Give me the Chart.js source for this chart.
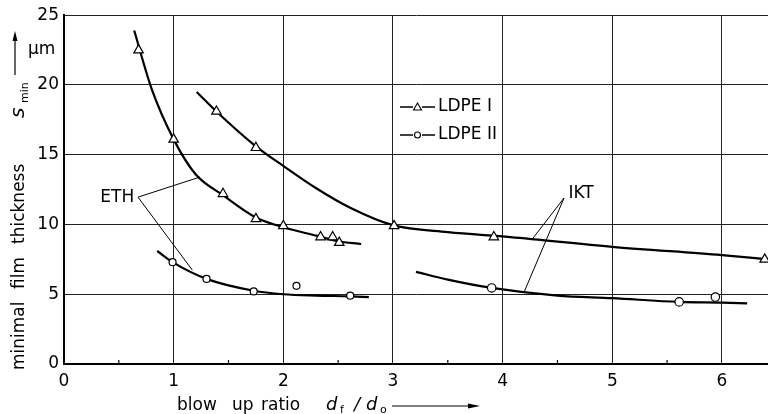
<!DOCTYPE html>
<html lang="en">
<head>
  <meta charset="UTF-8">
  <title>Minimal film thickness vs blow up ratio</title>
  <script src="https://cdn.jsdelivr.net/npm/chart.js"></script>
  <style>
    body {
      margin: 0;
      background: #fff;
    }
    canvas {
      display: block;
    }
  </style>
</head>
<body>
  <canvas id="thicknessChart" width="768" height="414"></canvas>

  <script>
    // LDPE I, ETH: measured points and fitted curve
    const ethLdpe1X = [0.68, 1.0, 1.45, 1.75, 2.0, 2.34, 2.45, 2.51];
    const ethLdpe1Y = [22.5, 16.1, 12.2, 10.4, 9.9, 9.1, 9.1, 8.7];
    const ethLdpe1CurveX = [0.64, 0.8, 1.0, 1.2, 1.45, 1.75, 2.0, 2.3, 2.5, 2.71];
    const ethLdpe1CurveY = [23.9, 19.7, 16.1, 13.6, 12.1, 10.5, 9.8, 9.2, 8.8, 8.6];

    // LDPE I, IKT
    const iktLdpe1X = [1.39, 1.75, 3.01, 3.92, 6.39];
    const iktLdpe1Y = [18.1, 15.5, 9.9, 9.1, 7.5];
    const iktLdpe1CurveX = [1.21, 1.39, 1.75, 2.0, 2.3, 2.61, 3.0, 3.5, 4.07, 5.0, 6.0, 6.42];
    const iktLdpe1CurveY = [19.5, 18.1, 15.6, 14.2, 12.6, 11.2, 9.95, 9.45, 9.1, 8.4, 7.8, 7.5];

    // LDPE II, ETH
    const ethLdpe2X = [0.99, 1.3, 1.73, 2.12, 2.61];
    const ethLdpe2Y = [7.3, 6.1, 5.2, 5.6, 4.9];
    const ethLdpe2CurveX = [0.85, 0.99, 1.3, 1.73, 2.0, 2.3, 2.61, 2.78];
    const ethLdpe2CurveY = [8.1, 7.3, 6.1, 5.25, 5.0, 4.9, 4.85, 4.8];

    // LDPE II, IKT
    const iktLdpe2X = [3.9, 5.61, 5.94];
    const iktLdpe2Y = [5.45, 4.45, 4.8];
    const iktLdpe2CurveX = [3.21, 3.5, 3.9, 4.5, 5.0, 5.61, 6.0, 6.23];
    const iktLdpe2CurveY = [6.6, 6.05, 5.45, 4.9, 4.72, 4.45, 4.4, 4.35];

    const xTicks = [0, 1, 2, 3, 4, 5, 6];
    const yTicks = [0, 5, 10, 15, 20, 25];
    const xMinorTicks = [0.5, 1.5, 2.5, 3.5, 4.5, 5.5];

    const FONT = '"DejaVu Sans", sans-serif';

    function pts(xs, ys) {
      return xs.map((x, i) => ({ x: x, y: ys[i] }));
    }

    function curve(xs, ys) {
      return {
        data: pts(xs, ys),
        showLine: true,
        borderColor: '#000',
        borderWidth: 2.2,
        pointRadius: 0,
        cubicInterpolationMode: 'monotone',
        order: 2
      };
    }

    function marks(xs, ys, style, r) {
      return {
        data: pts(xs, ys),
        showLine: false,
        pointStyle: style,
        pointRadius: r,
        pointBorderWidth: 1.2,
        pointBorderColor: '#000',
        pointBackgroundColor: '#fff',
        clip: false,
        order: 1
      };
    }

    // labels, leader lines, legend and axis titles
    const decorations = {
      id: 'decorations',
      afterDraw(chart) {
        const ctx = chart.ctx;
        const xs = chart.scales.x;
        const ys = chart.scales.y;
        const px = v => xs.getPixelForValue(v);
        const py = v => ys.getPixelForValue(v);

        ctx.save();
        ctx.fillStyle = '#000';
        ctx.strokeStyle = '#000';

        // minor ticks on the x axis
        ctx.lineWidth = 1.2;
        xMinorTicks.forEach(v => {
          ctx.beginPath();
          ctx.moveTo(px(v), py(0));
          ctx.lineTo(px(v), py(0) - 4);
          ctx.stroke();
        });

        // leader lines
        ctx.lineWidth = 1;
        const leader = (ax, ay, targets) => {
          targets.forEach(t => {
            ctx.beginPath();
            ctx.moveTo(px(ax), py(ay));
            ctx.lineTo(px(t[0]), py(t[1]));
            ctx.stroke();
          });
        };
        leader(0.675, 11.96, [[1.24, 13.4], [1.17, 6.73]]);
        leader(4.56, 11.9, [[4.27, 8.95], [4.2, 5.23]]);

        ctx.font = '17px ' + FONT;
        ctx.textBaseline = 'middle';
        ctx.textAlign = 'right';
        ctx.fillText('ETH', px(0.64), py(11.95));
        ctx.textAlign = 'left';
        ctx.fillText('IKT', px(4.6), py(12.25));

        // legend
        const legendRow = (y, style, label) => {
          ctx.lineWidth = 1.6;
          ctx.beginPath();
          ctx.moveTo(400, y);
          ctx.lineTo(413, y);
          ctx.moveTo(422, y);
          ctx.lineTo(435, y);
          ctx.stroke();
          ctx.lineWidth = 1.1;
          ctx.beginPath();
          if (style === 'triangle') {
            ctx.moveTo(417.5, y - 4);
            ctx.lineTo(421.5, y + 3);
            ctx.lineTo(413.5, y + 3);
            ctx.closePath();
          } else {
            ctx.arc(417.5, y, 3, 0, Math.PI * 2);
          }
          ctx.stroke();
          ctx.textAlign = 'left';
          ctx.fillText(label, 438, y);
        };
        legendRow(107, 'triangle', 'LDPE I');
        legendRow(135, 'circle', 'LDPE II');

        // y axis title, rotated word by word
        ctx.textBaseline = 'alphabetic';
        const vword = (text, x, y, font) => {
          ctx.save();
          ctx.font = font;
          ctx.translate(x, y);
          ctx.rotate(-Math.PI / 2);
          ctx.textAlign = 'left';
          ctx.fillText(text, 0, 0);
          ctx.restore();
        };
        vword('minimal', 23.5, 370, '17px ' + FONT);
        vword('film', 23.5, 289, '17px ' + FONT);
        vword('thickness', 23.5, 244, '17px ' + FONT);
        vword('s', 23.5, 118, 'italic 20px ' + FONT);
        vword('min', 27.5, 103, '11px ' + FONT);

        // upward arrow next to the unit
        ctx.lineWidth = 1.2;
        ctx.beginPath();
        ctx.moveTo(15, 75);
        ctx.lineTo(15, 38);
        ctx.stroke();
        ctx.beginPath();
        ctx.moveTo(15, 31);
        ctx.lineTo(17.5, 41);
        ctx.lineTo(12.5, 41);
        ctx.closePath();
        ctx.fill();

        ctx.font = '17px ' + FONT;
        ctx.fillText('\u00b5m', 28, 54);

        // x axis title
        ctx.fillText('blow', 177, 410);
        ctx.fillText('up', 232, 410);
        ctx.fillText('ratio', 261, 410);
        ctx.font = 'italic 18px ' + FONT;
        ctx.fillText('d', 326, 410);
        ctx.fillText('/', 354, 410);
        ctx.fillText('d', 366, 410);
        ctx.font = '11px ' + FONT;
        ctx.fillText('f', 340, 413);
        ctx.fillText('o', 380, 413);

        ctx.lineWidth = 1;
        ctx.beginPath();
        ctx.moveTo(392, 406);
        ctx.lineTo(470, 406);
        ctx.stroke();
        ctx.beginPath();
        ctx.moveTo(480, 406);
        ctx.lineTo(468, 403.5);
        ctx.lineTo(468, 408.5);
        ctx.closePath();
        ctx.fill();

        ctx.restore();
      }
    };

    new Chart(document.getElementById('thicknessChart'), {
      type: 'scatter',
      data: {
        datasets: [
          marks(ethLdpe1X, ethLdpe1Y, 'triangle', 5.5),
          marks(iktLdpe1X, iktLdpe1Y, 'triangle', 5.5),
          marks(ethLdpe2X, ethLdpe2Y, 'circle', 3.5),
          marks(iktLdpe2X, iktLdpe2Y, 'circle', 4.2),
          curve(ethLdpe1CurveX, ethLdpe1CurveY),
          curve(iktLdpe1CurveX, iktLdpe1CurveY),
          curve(ethLdpe2CurveX, ethLdpe2CurveY),
          curve(iktLdpe2CurveX, iktLdpe2CurveY)
        ]
      },
      options: {
        responsive: false,
        animation: false,
        devicePixelRatio: 1,
        // the plot runs right up to the edge of the canvas
        layout: { autoPadding: false, padding: { top: 15, left: 0, right: 0, bottom: 0 } },
        plugins: {
          legend: { display: false },
          tooltip: { enabled: false }
        },
        scales: {
          x: {
            type: 'linear',
            min: 0,
            max: 6.42,
            afterFit: scale => { scale.height = 50; },
            afterBuildTicks: scale => { scale.ticks = xTicks.map(v => ({ value: v })); },
            ticks: {
              color: '#000',
              font: { family: FONT, size: 17 },
              padding: 7,
              maxRotation: 0
            },
            grid: { color: '#222', lineWidth: 1, drawTicks: false },
            border: { color: '#000', width: 2 }
          },
          y: {
            min: 0,
            max: 25,
            afterFit: scale => { scale.width = 64; },
            afterBuildTicks: scale => { scale.ticks = yTicks.map(v => ({ value: v })); },
            ticks: {
              color: '#000',
              font: { family: FONT, size: 17 },
              padding: 5
            },
            grid: { color: '#222', lineWidth: 1, drawTicks: false },
            border: { color: '#000', width: 2 }
          }
        }
      },
      plugins: [decorations]
    });
  </script>
</body>
</html>
